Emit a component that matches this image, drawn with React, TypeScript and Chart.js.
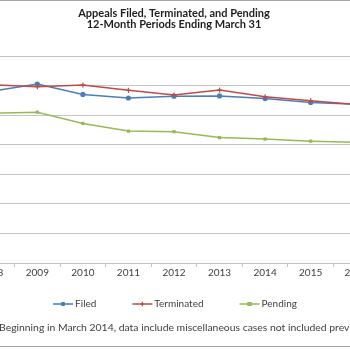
import React, { useEffect, useRef } from 'react';
import { Chart, registerables } from 'chart.js';

Chart.register(...registerables);

const years = ['2008', '2009', '2010', '2011', '2012', '2013', '2014', '2015', '2016'];
const filed = [58.1, 60.5, 57.0, 55.8, 56.4, 56.5, 55.6, 54.3, 53.7];
const terminated = [60.3, 59.6, 60.2, 58.4, 56.8, 58.5, 56.2, 54.9, 53.6];
const pending = [50.6, 51.0, 47.2, 44.6, 44.4, 42.4, 41.9, 41.2, 40.8];
const seriesNames = ['Filed', 'Terminated', 'Pending'];
const seriesColors = ['#4A7EBB', '#BE4B48', '#98B954'];
const seriesMarkers = ['circle', 'cross', 'rect'];
const titleLines = ['Appeals Filed, Terminated, and Pending', '12-Month Periods Ending March 31'];
const footnote = 'Beginning in March 2014, data include miscellaneous cases not included previously.';
const yMin = 0;
const yMax = 70;
const yStep = 10;

const CANVAS_W = 470;
const CANVAS_H = 350;
const OFFSET_X = -60;
const FONT = 'Lato, "Open Sans", sans-serif';
const TEXT_COLOR = '#404040';
const GRID_COLOR = '#c4c4c4';

function drawMarker(ctx: CanvasRenderingContext2D, style: string, x: number, y: number, color: string) {
  ctx.save();
  ctx.fillStyle = color;
  ctx.strokeStyle = color;
  ctx.lineWidth = 1.2;
  if (style === 'circle') {
    ctx.beginPath();
    ctx.arc(x, y, 2.3, 0, Math.PI * 2);
    ctx.fill();
  } else if (style === 'rect') {
    ctx.fillRect(x - 2.3, y - 2, 4.6, 4);
  } else {
    ctx.beginPath();
    ctx.moveTo(x - 2.3, y);
    ctx.lineTo(x + 2.3, y);
    ctx.moveTo(x, y - 2.3);
    ctx.lineTo(x, y + 2.3);
    ctx.stroke();
  }
  ctx.restore();
}

const decorPlugin = {
  id: 'decor',
  afterDraw(chart: any) {
    const ctx: CanvasRenderingContext2D = chart.ctx;
    ctx.save();
    // frame
    ctx.strokeStyle = '#a6a6a6';
    ctx.lineWidth = 1;
    ctx.strokeRect(0.5, 0.5, CANVAS_W - 1, 346);

    // legend
    ctx.font = `10px ${FONT}`;
    ctx.textBaseline = 'middle';
    ctx.textAlign = 'left';
    const markerW = 20;
    const gapText = 2;
    const gapItem = 36;
    const widths = seriesNames.map((n) => markerW + gapText + ctx.measureText(n).width);
    const total = widths.reduce((a, b) => a + b, 0) + gapItem * (widths.length - 1);
    let x = CANVAS_W / 2 - total / 2;
    const ly = 304;
    seriesNames.forEach((name, i) => {
      ctx.strokeStyle = seriesColors[i];
      ctx.lineWidth = 1.5;
      ctx.beginPath();
      ctx.moveTo(x, ly);
      ctx.lineTo(x + markerW, ly);
      ctx.stroke();
      drawMarker(ctx, seriesMarkers[i], x + markerW / 2, ly, seriesColors[i]);
      ctx.fillStyle = TEXT_COLOR;
      ctx.fillText(name, x + markerW + gapText, ly);
      x += widths[i] + gapItem;
    });

    // footnote
    ctx.fillStyle = TEXT_COLOR;
    ctx.font = `10.4px ${FONT}`;
    ctx.fillText(footnote, 59, 328);
    ctx.restore();
  },
};

export default function App() {
  const ref = useRef<HTMLCanvasElement | null>(null);
  useEffect(() => {
    if (!ref.current) return;
    const mk = (label: string, data: number[], i: number) => ({
      label,
      data,
      borderColor: seriesColors[i],
      backgroundColor: seriesColors[i],
      borderWidth: 1.5,
      pointStyle: seriesMarkers[i],
      pointRadius: seriesMarkers[i] === 'rect' ? 2.3 : 2.6,
      pointBorderWidth: seriesMarkers[i] === 'cross' ? 1.2 : 0,
      tension: 0,
      order: i === 1 ? 0 : i === 0 ? 1 : 2,
    });
    const chart = new Chart(ref.current, {
      type: 'line',
      data: {
        labels: years,
        datasets: [mk(seriesNames[0], filed, 0), mk(seriesNames[1], terminated, 1), mk(seriesNames[2], pending, 2)],
      },
      plugins: [decorPlugin],
      options: {
        animation: false,
        responsive: false,
        devicePixelRatio: 1,
        layout: { padding: { top: 2, left: 29, right: 31, bottom: 71 } },
        plugins: {
          legend: { display: false },
          tooltip: { enabled: false },
          title: {
            display: true,
            text: titleLines,
            color: '#1f1f1f',
            font: { family: FONT, size: 11, weight: 'bold', lineHeight: 1.0 },
            padding: { top: 5.5, bottom: 26.5 },
          },
        },
        scales: {
          x: {
            type: 'category',
            offset: true,
            grid: {
              display: true,
              drawOnChartArea: false,
              offset: true,
              tickLength: 4,
              color: GRID_COLOR,
            },
            border: { display: true, color: GRID_COLOR },
            ticks: {
              color: TEXT_COLOR,
              font: { family: FONT, size: 10 },
              padding: 0,
              maxRotation: 0,
              autoSkip: false,
            },
          },
          y: {
            min: yMin,
            max: yMax,
            afterFit: (s: any) => {
              s.width = 0;
            },
            ticks: { display: false, stepSize: yStep },
            grid: { color: GRID_COLOR, drawTicks: false },
            border: { display: false },
          },
        },
      },
    } as any);
    return () => chart.destroy();
  }, []);
  return (
    <div style={{ position: 'fixed', left: 0, top: 0, width: 350, height: 350, overflow: 'hidden', background: '#fff' }}>
      <canvas
        ref={ref}
        width={CANVAS_W}
        height={CANVAS_H}
        style={{ position: 'absolute', left: OFFSET_X, top: 0, width: CANVAS_W, height: CANVAS_H }}
      />
    </div>
  );
}
